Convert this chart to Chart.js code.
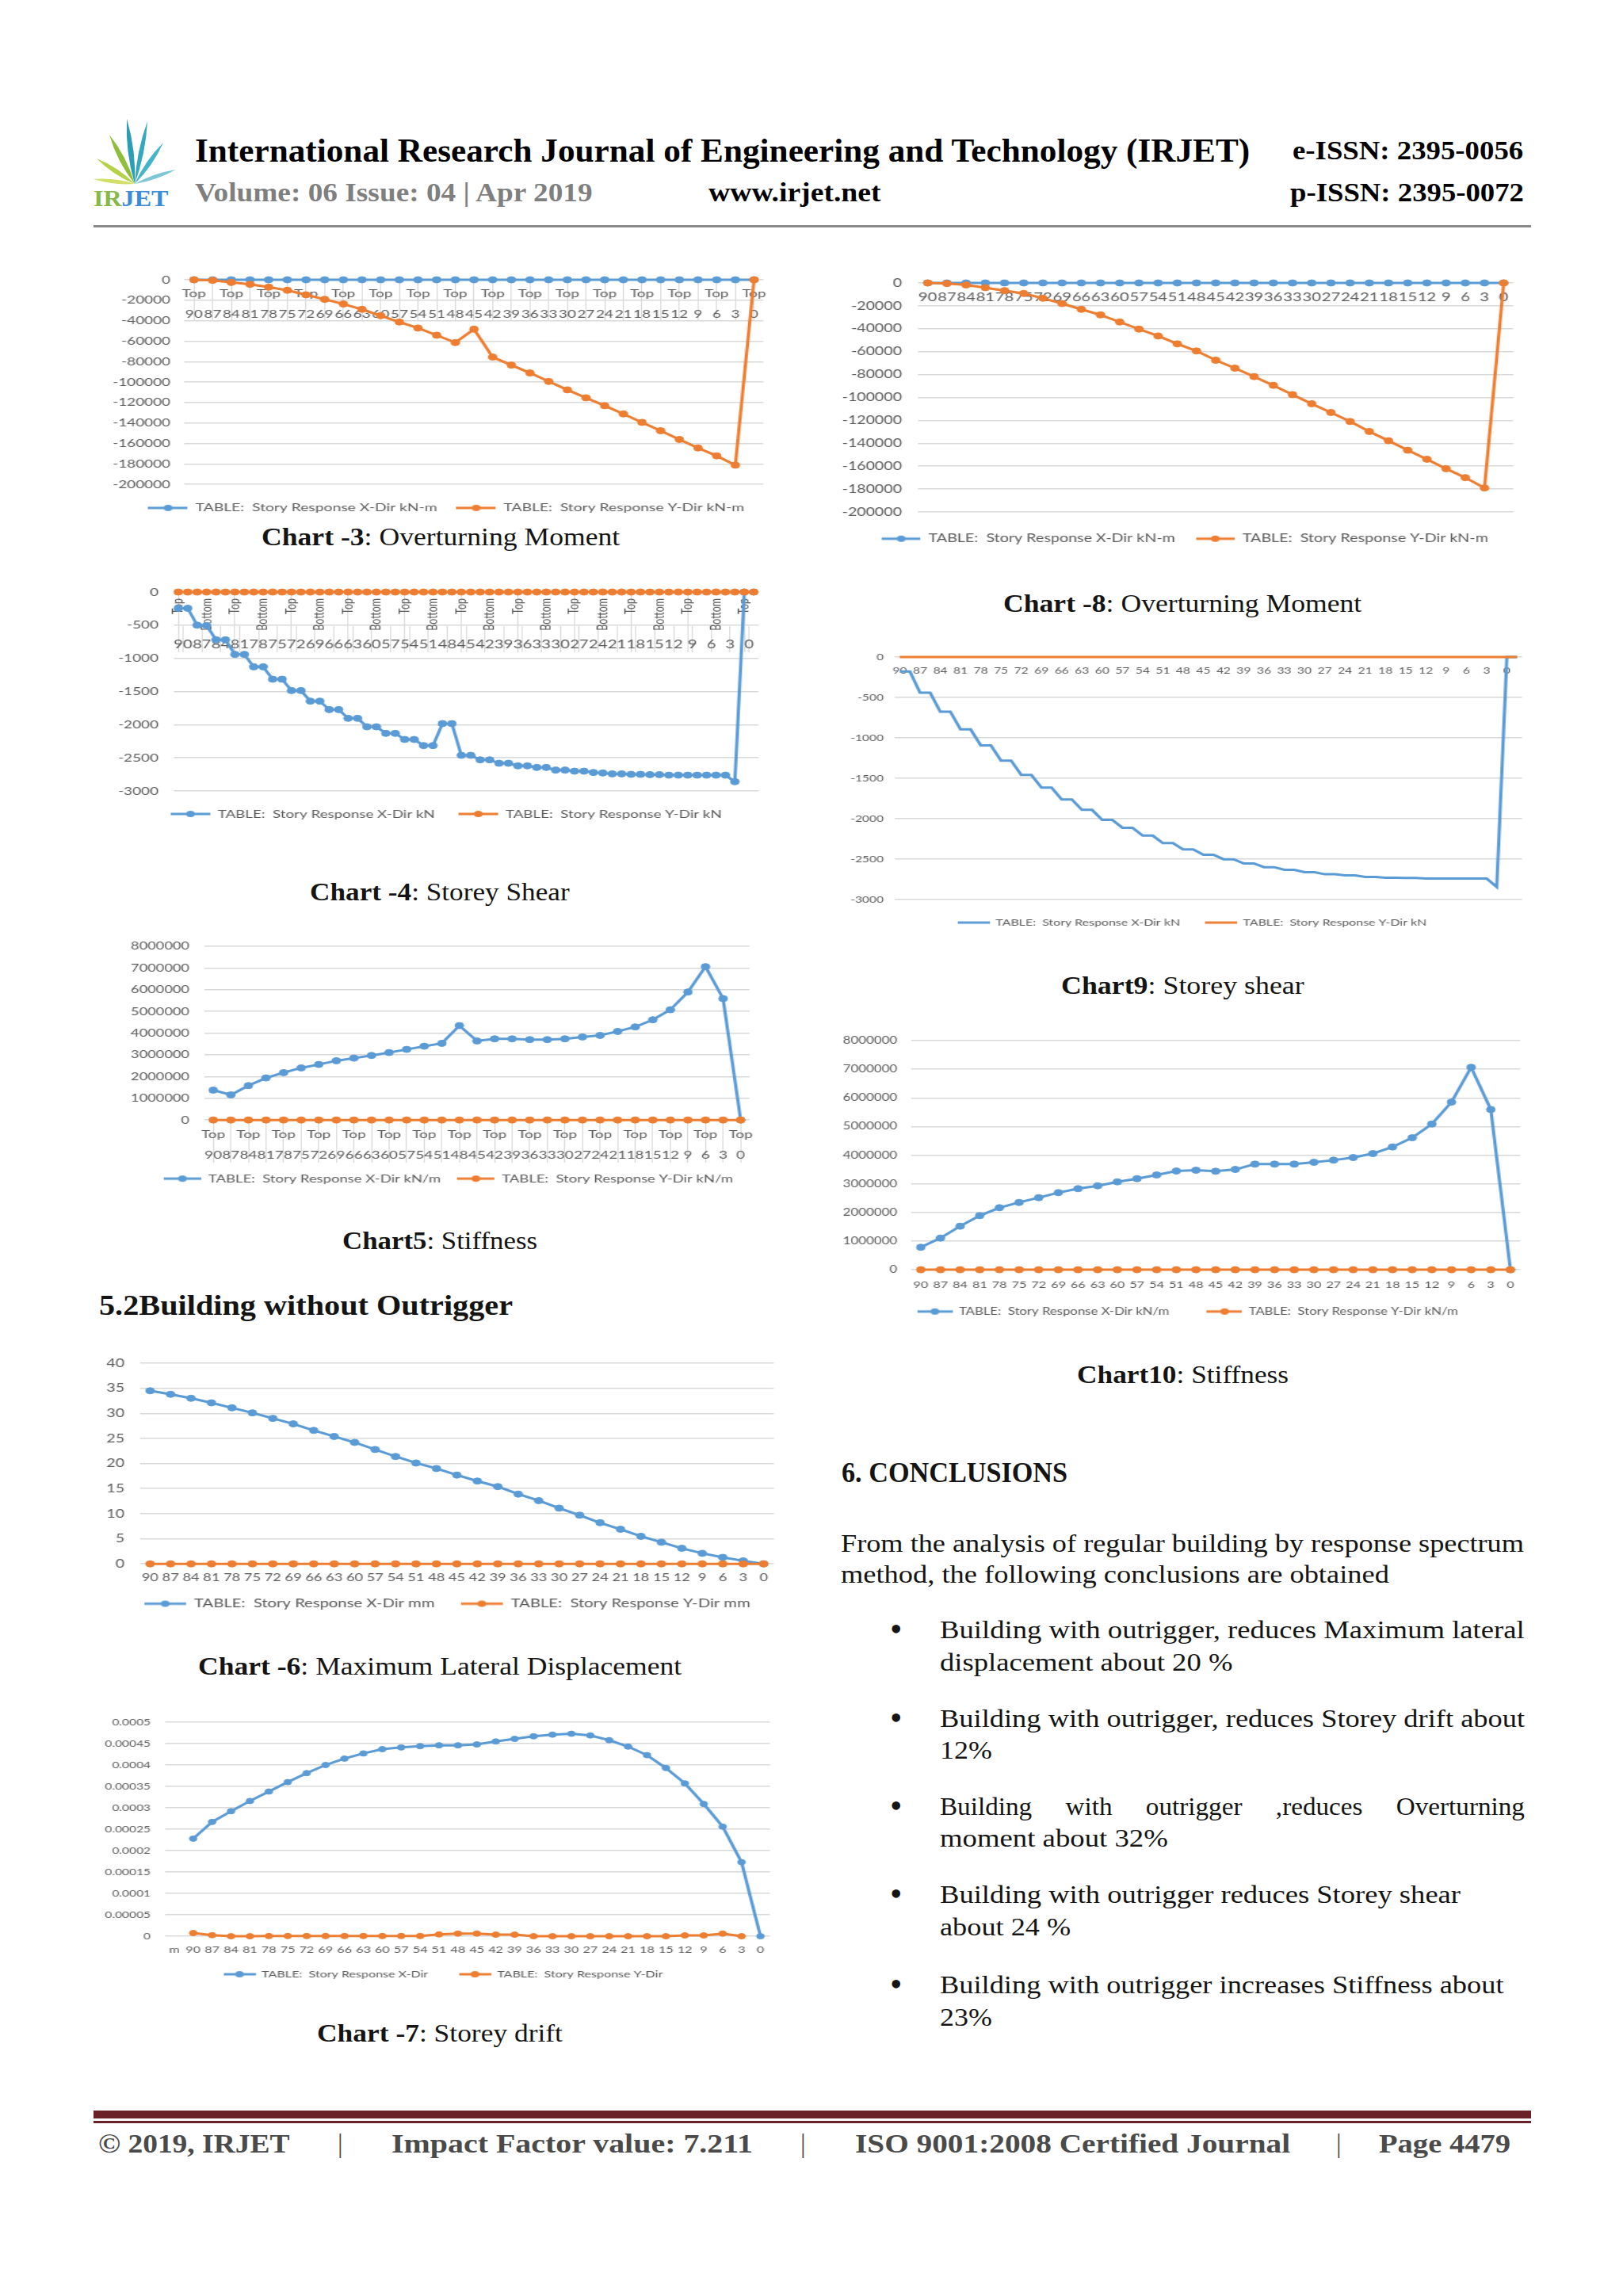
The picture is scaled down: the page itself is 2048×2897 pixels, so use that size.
<!DOCTYPE html>
<html><head><meta charset="utf-8">
<script src="https://cdn.jsdelivr.net/npm/chart.js@4.4.1/dist/chart.umd.min.js"></script>
<style>
html,body{margin:0;padding:0;background:#fff;}
body{position:relative;width:2048px;height:2897px;overflow:hidden;font-family:'Liberation Serif','DejaVu Serif',serif;color:#141414;}
.t{position:absolute;white-space:nowrap;line-height:1.2;transform-origin:0 50%;}
canvas{position:absolute;}
.bar{position:absolute;}
</style></head><body>
<div class="bar" style="left:118px;top:284px;width:1814px;height:3px;background:#8a8a8a"></div>
<div class="bar" style="left:118px;top:2663px;width:1814px;height:10px;background:#6a2228"></div>
<div class="bar" style="left:118px;top:2676px;width:1814px;height:3px;background:#6a2228"></div>
<svg id="logo" style="position:absolute;left:100px;top:140px" width="140" height="100" viewBox="100 140 140 100"></svg>
<script>
// ---------------- DATA ----------------
const stories = [90,87,84,81,78,75,72,69,66,63,60,57,54,51,48,45,42,39,36,33,30,27,24,21,18,15,12,9,6,3,0];
const levelTop = 'Top';
const levelBottom = 'Bottom';
const driftFirstCat = 'm';
const zeros31 = [0,0,0,0,0,0,0,0,0,0, 0,0,0,0,0,0,0,0,0,0, 0,0,0,0,0,0,0,0,0,0, 0];
const zeros62 = [0,0,0,0,0,0,0,0,0,0, 0,0,0,0,0,0,0,0,0,0, 0,0,0,0,0,0,0,0,0,0, 0,0,0,0,0,0,0,0,0,0, 0,0,0,0,0,0,0,0,0,0, 0,0,0,0,0,0,0,0,0,0, 0,0];

// Chart-3 overturning moment (with outrigger), Y-Dir kN-m
const moment3Y = [0,-500,-2600,-4400,-7200,-10300,-14700,-19100,-23700,-28900,-35100,-41300,-47200,-54200,-61400,-48300,-75600,-83400,-91100,-99400,-107600,-115400,-123100,-131100,-139400,-147600,-156100,-164400,-172100,-181200,0];
// Chart-8 overturning moment (without outrigger), Y-Dir kN-m
const moment8Y = [0,-500,-1800,-4100,-6700,-9200,-13400,-18000,-23000,-27900,-34100,-40300,-46300,-53200,-59400,-67500,-74400,-81800,-89400,-97500,-105500,-113100,-121000,-129700,-137800,-146100,-153900,-162200,-170000,-179000,0];
// Chart-4 storey shear (with outrigger), X-Dir kN, Top/Bottom per storey
const shear4X = [-245,-245,-500,-505,-720,-720,-940,-940,-1128,-1128,-1315,-1315,-1486,-1486,-1645,-1645,-1773,-1773,-1904,-1904,-2032,-2032,-2131,-2131,-2223,-2223,-2315,-2315,-1984,-1984,-2462,-2462,-2530,-2530,-2582,-2582,-2621,-2621,-2645,-2645,-2685,-2685,-2701,-2701,-2721,-2728,-2741,-2741,-2749,-2749,-2753,-2753,-2761,-2761,-2761,-2761,-2761,-2761,-2761,-2860,0,0];
// Chart9 storey shear (without outrigger), X-Dir kN
const shear9X = [-180,-180,-442,-442,-677,-677,-896,-896,-1093,-1093,-1282,-1282,-1459,-1459,-1616,-1616,-1763,-1763,-1891,-1891,-2015,-2015,-2113,-2113,-2211,-2211,-2303,-2303,-2382,-2382,-2447,-2447,-2503,-2503,-2555,-2555,-2601,-2601,-2634,-2634,-2663,-2663,-2689,-2689,-2702,-2702,-2722,-2722,-2732,-2732,-2735,-2735,-2741,-2741,-2741,-2741,-2741,-2741,-2741,-2846,0,0];
// Chart5 stiffness (with outrigger), X-Dir kN/m
const stiff5X = [1376000,1157000,1583000,1936000,2180000,2399000,2557000,2728000,2849000,2971000,3105000,3251000,3397000,3531000,4347000,3641000,3738000,3738000,3702000,3702000,3738000,3824000,3897000,4079000,4286000,4615000,5078000,5894000,7063000,5589000,0];
// Chart10 stiffness (without outrigger), X-Dir kN/m
const stiff10X = [783000,1106000,1521000,1889000,2166000,2350000,2516000,2691000,2830000,2931000,3069000,3180000,3309000,3447000,3475000,3438000,3502000,3687000,3687000,3687000,3751000,3825000,3917000,4055000,4286000,4608000,5088000,5853000,7069000,5595000,0];
// Chart-6 max lateral displacement, X-Dir mm
const disp6X = [34.5,33.8,33.0,32.1,31.1,30.1,29.0,27.9,26.6,25.4,24.2,22.8,21.4,20.1,19.0,17.7,16.5,15.4,13.9,12.6,11.1,9.7,8.2,6.9,5.5,4.3,3.1,2.1,1.3,0.6,0];
// Chart-7 storey drift (first category "m" empty)
const drift7X = [null,0.000228,0.000267,0.000292,0.000316,0.000338,0.000360,0.000381,0.000400,0.000415,0.000427,0.000437,0.000441,0.000444,0.000446,0.000446,0.000448,0.000455,0.000461,0.000467,0.000471,0.000473,0.000469,0.000458,0.000443,0.000423,0.000393,0.000357,0.000309,0.000256,0.000173,0];
const drift7Y = [null,0.0000074,0.0000025,0,0,0.0000005,0.0000005,0.0000005,0.0000005,0.0000005,0.0000005,0.0000005,0.0000005,0.0000005,0.0000043,0.0000062,0.0000062,0.0000037,0.0000037,0,0,0,0,0,0,0,0,0.0000019,0.0000019,0.0000062,0];

const LG = {
  momX:'TABLE:  Story Response X-Dir kN-m', momY:'TABLE:  Story Response Y-Dir kN-m',
  shX:'TABLE:  Story Response X-Dir kN', shY:'TABLE:  Story Response Y-Dir kN',
  stX:'TABLE:  Story Response X-Dir kN/m', stY:'TABLE:  Story Response Y-Dir kN/m',
  dX:'TABLE:  Story Response X-Dir mm', dY:'TABLE:  Story Response Y-Dir mm',
  drX:'TABLE:  Story Response X-Dir', drY:'TABLE:  Story Response Y-Dir'
};

// ---------------- STYLE / HELPERS ----------------
const FONT = "Lato, 'Liberation Sans', sans-serif";
const BLUE = '#5B9BD5', ORANGE = '#ED7D31', GRID = '#D9D9D9', TXT = '#595959';
const SX = 1.35;
const PADTOP = 30;

function sym(color, w, marker, r) {
  const c = document.createElement('canvas');
  c.width = Math.round(w); c.height = 14;
  const g = c.getContext('2d');
  g.strokeStyle = color; g.lineWidth = 3;
  g.beginPath(); g.moveTo(0, 7); g.lineTo(c.width, 7); g.stroke();
  if (marker) { g.fillStyle = color; g.beginPath(); g.arc(c.width / 2, 7, r, 0, Math.PI * 2); g.fill(); }
  return c;
}
function fmt(v) { return String(+Number(v).toPrecision(6)); }
function line(label, data, color, r, order) {
  return {label, data: data.slice(), order, borderColor: color, backgroundColor: color, borderWidth: 3,
    pointRadius: r, pointHoverRadius: r, pointBackgroundColor: color, pointBorderColor: color, pointBorderWidth: 1,
    tension: 0, fill: false, clip: false, xAxisID: 'x', yAxisID: 'y'};
}

function makeChart(o) {
  const H = Math.max(o.lgC - o.cl, o.cr - o.lgC) + 40;
  const left = Math.round(o.lgC - H), right = Math.round(o.lgC + H);
  const top = Math.round(o.ct - PADTOP), bottom = Math.round(o.lgY + o.lgFs / 2 + 10);
  const W = Math.round((right - left) / SX), Ht = bottom - top;
  const yW = (o.cl - left) / SX, y2W = (right - o.cr) / SX;
  const lgPad = Math.max(0, Math.min(o.gap / SX, o.lgY - o.lgFs / 2 - o.cb));
  const xH = Math.max(0, o.lgY - o.lgFs / 2 - lgPad - o.cb);
  const cv = document.createElement('canvas');
  cv.width = W; cv.height = Ht;
  cv.style.left = left + 'px'; cv.style.top = top + 'px';
  cv.style.transform = 'scaleX(' + SX + ')'; cv.style.transformOrigin = '0 0';
  document.body.appendChild(cv);
  const syms = o.datasets.map(d => sym(d.borderColor, o.symW / SX, d.pointRadius > 0, 4));
  const scales = {};
  const xs = o.x();
  Object.keys(xs).forEach(k => { scales[k] = xs[k]; });
  scales.xPad = {type:'linear', axis:'x', position:'bottom', afterFit: s => { s.height = xH; },
    grid:{display:false, drawTicks:false}, ticks:{display:false}, border:{display:false}};
  scales.y = {type:'linear', position:'left', min:o.yMin, max:o.yMax,
    afterFit: s => { s.width = yW; },
    ticks:{stepSize:o.yStep, padding:o.yGap / SX, color:TXT, font:{family:FONT, size:o.yFs}, callback: v => fmt(v)},
    grid:{color:GRID, lineWidth:1.5, drawTicks:false}, border:{display:false}};
  scales.yR = {type:'linear', axis:'y', position:'right', afterFit: s => { s.width = y2W; },
    grid:{display:false, drawTicks:false}, ticks:{display:false}, border:{display:false}};
  return new Chart(cv, {
    type:'line',
    data:{labels:o.labels, datasets:o.datasets},
    options:{
      responsive:false, animation:false, devicePixelRatio:1,
      layout:{padding:{top:o.ct - top, left:0, right:0, bottom:0}, autoPadding:false},
      plugins:{
        tooltip:{enabled:false},
        legend:{position:'bottom', labels:{usePointStyle:true, pointStyleWidth:o.symW / SX, boxHeight:o.lgFs,
          padding:lgPad, color:TXT, font:{family:FONT, size:o.lgFs},
          sort:(a, b) => a.datasetIndex - b.datasetIndex,
          generateLabels: ch => {
            const items = Chart.defaults.plugins.legend.labels.generateLabels(ch);
            items.forEach(it => { it.pointStyle = syms[it.datasetIndex]; });
            return items;
          }}}
      },
      scales
    }
  });
}

// category axis pinned to the y=0 line (labels below it)
function twoRowX(tl, pad, fs) {
  return {type:'category', position:{y:0}, offset:true,
    grid:{display:true, drawOnChartArea:false, drawTicks:true, tickLength:tl, color:GRID, lineWidth:1},
    border:{display:false},
    ticks:{autoSkip:false, maxRotation:0, minRotation:0, padding:pad, color:TXT, font:{family:FONT, size:fs, lineHeight:'26px'}}};
}
function plainX(pad, fs, cb) {
  const ax = {type:'category', position:{y:0}, offset:true, grid:{display:false, drawTicks:false}, border:{display:false},
    ticks:{autoSkip:false, maxRotation:0, minRotation:0, padding:pad, color:TXT, font:{family:FONT, size:fs}}};
  if (cb) ax.ticks.callback = cb;
  return ax;
}

// ---------------- CHARTS ----------------
const labelsTopNum = stories.map((s, i) => [i % 2 === 0 ? levelTop : '', String(s)]);
const labelsNum = stories.map(String);
const labelsTB = stories.flatMap(() => [levelTop, levelBottom]);
const labelsPair = stories.flatMap(s => [String(s), String(s)]);
const labelsDrift = [driftFirstCat].concat(stories.map(String));

// Chart -3
makeChart({cl:233, cr:963, ct:353, cb:611.3, lgY:641, lgC:563, lgFs:14.3, gap:24, symW:50,
  yFs:14, yGap:18, yMin:-200000, yMax:0, yStep:20000, labels:labelsTopNum,
  datasets:[line(LG.momX, zeros31, BLUE, 4, 2), line(LG.momY, moment3Y, ORANGE, 4, 1)],
  x: () => ({x: twoRowX(52, -48, 14)})});

// Chart -8
makeChart({cl:1158.5, cr:1909, ct:357, cb:646.3, lgY:680, lgC:1495, lgFs:14.6, gap:26, symW:49,
  yFs:14.5, yGap:20.5, yMin:-200000, yMax:0, yStep:20000, labels:labelsNum,
  datasets:[line(LG.momX, zeros31, BLUE, 4, 2), line(LG.momY, moment8Y, ORANGE, 4, 1)],
  x: () => ({x: plainX(9, 15)})});

// Chart -4
makeChart({cl:219, cr:957, ct:747, cb:998, lgY:1027, lgC:563, lgFs:13.9, gap:38, symW:50,
  yFs:14, yGap:19, yMin:-3000, yMax:0, yStep:500, labels:labelsTB,
  datasets:[line(LG.shX, shear4X, BLUE, 4, 2), line(LG.shY, zeros62, ORANGE, 4, 1)],
  x: () => ({
    x: {type:'category', position:{y:0}, offset:true,
      grid:{display:true, drawOnChartArea:false, drawTicks:true, tickLength:76, lineWidth:1,
        color: c => (c.index % 6 === 0 ? GRID : 'rgba(0,0,0,0)')},
      border:{display:false},
      ticks:{autoSkip:false, minRotation:90, maxRotation:90, padding:-68, color:TXT, font:{family:FONT, size:12.5},
        callback: function (v, i) { return i % 3 === 0 ? this.getLabelForValue(v) : ''; }}},
    x2: {type:'category', axis:'x', labels:labelsNum, position:{y:0}, offset:true,
      grid:{display:true, drawOnChartArea:false, drawTicks:true, tickLength:76, color:GRID, lineWidth:1, tickBorderDash:[0, 43, 33, 0]},
      border:{display:false},
      ticks:{autoSkip:false, maxRotation:0, minRotation:0, padding:-19, color:TXT, font:{family:FONT, size:15}}}
  })});

// Chart9
makeChart({cl:1129, cr:1920, ct:829, cb:1134.7, lgY:1164, lgC:1504, lgFs:11.8, gap:41, symW:40,
  yFs:11.5, yGap:14, yMin:-3000, yMax:0, yStep:500, labels:labelsPair,
  datasets:[line(LG.shX, shear9X, BLUE, 0, 2), line(LG.shY, zeros62, ORANGE, 0, 1)],
  x: () => ({x: plainX(10, 11.5, function (v, i) { return i % 2 === 0 ? this.getLabelForValue(v) : ''; })})});

// Chart5
makeChart({cl:258, cr:946, ct:1194, cb:1413, lgY:1487, lgC:566, lgFs:13.7, gap:21, symW:47,
  yFs:13.5, yGap:19, yMin:0, yMax:8000000, yStep:1000000, labels:labelsTopNum,
  datasets:[line(LG.stX, stiff5X, BLUE, 4, 2), line(LG.stY, zeros31, ORANGE, 4, 1)],
  x: () => ({x: twoRowX(54, -49, 14)})});

// Chart10
makeChart({cl:1149.5, cr:1919, ct:1313, cb:1602.3, lgY:1655, lgC:1499, lgFs:12.4, gap:48, symW:44,
  yFs:12.5, yGap:17.5, yMin:0, yMax:8000000, yStep:1000000, labels:labelsNum,
  datasets:[line(LG.stX, stiff10X, BLUE, 4, 2), line(LG.stY, zeros31, ORANGE, 4, 1)],
  x: () => ({x: plainX(11.5, 12)})});

// Chart -6
makeChart({cl:176.5, cr:977, ct:1720, cb:1972.7, lgY:2023, lgC:564.5, lgFs:15, gap:33, symW:53,
  yFs:14.5, yGap:19.5, yMin:0, yMax:40, yStep:5, labels:labelsNum,
  datasets:[line(LG.dX, disp6X, BLUE, 4, 2), line(LG.dY, zeros31, ORANGE, 4, 1)],
  x: () => ({x: plainX(9.2, 13.5)})});

// Chart -7
makeChart({cl:208, cr:971, ct:2173, cb:2443, lgY:2491, lgC:559, lgFs:11.9, gap:39, symW:40,
  yFs:11.5, yGap:18, yMin:0, yMax:0.0005, yStep:0.00005, labels:labelsDrift,
  datasets:[line(LG.drX, drift7X, BLUE, 3.5, 2), line(LG.drY, drift7Y, ORANGE, 3.5, 1)],
  x: () => ({x: plainX(9.8, 12)})});

// ---------------- PAGE TEXT ----------------
const TEXTS = [
 {x:246, cy:190, fs:42, w:1331, b:1, c:'#000', t:'International Research Journal of Engineering and Technology (IRJET)'},
 {x:1631, cy:191, fs:34, w:291, b:1, c:'#000', t:'e-ISSN: 2395-0056'},
 {x:246, cy:244, fs:33, w:502, b:1, c:'#7f7f7f', t:'Volume: 06 Issue: 04 | Apr 2019'},
 {x:894, cy:244, fs:33, w:218, b:1, c:'#000', t:'www.irjet.net'},
 {x:1628, cy:244, fs:34, w:295, b:1, c:'#000', t:'p-ISSN: 2395-0072'},
 {x:118, cy:250, fs:30, w:94, b:1, h:'<span style="color:#86b94a">IR</span><span style="color:#3b8bd6">JET</span>'},
 {x:330, cy:677, fs:32, w:452, h:'<b>Chart -3</b>: Overturning Moment'},
 {x:1266, cy:761, fs:32, w:452, h:'<b>Chart -8</b>: Overturning Moment'},
 {x:391, cy:1125, fs:32, w:328, h:'<b>Chart -4</b>: Storey Shear'},
 {x:1339, cy:1243, fs:32, w:307, h:'<b>Chart9</b>: Storey shear'},
 {x:432, cy:1565, fs:32, w:246, h:'<b>Chart5</b>: Stiffness'},
 {x:1359, cy:1734, fs:32, w:267, h:'<b>Chart10</b>: Stiffness'},
 {x:250, cy:2102, fs:32, w:610, h:'<b>Chart -6</b>: Maximum Lateral Displacement'},
 {x:400, cy:2565, fs:32, w:310, h:'<b>Chart -7</b>: Storey drift'},
 {x:125, cy:1648, fs:35, w:522, b:1, t:'5.2Building without Outrigger'},
 {x:1062, cy:1859, fs:36, w:285, b:1, t:'6. CONCLUSIONS'},
 {x:1061, cy:1948, fs:31, w:862, t:'From the analysis of regular building by response spectrum'},
 {x:1061, cy:1987, fs:31, w:692, t:'method, the following conclusions are obtained'},
 {x:1186, cy:2057, fs:31, w:738, t:'Building with outrigger, reduces  Maximum lateral'},
 {x:1186, cy:2098, fs:31, w:370, t:'displacement about 20 %'},
 {x:1186, cy:2169, fs:31, w:738, t:'Building with outrigger, reduces Storey drift about'},
 {x:1186, cy:2209, fs:31, w:66, t:'12%'},
 {x:1186, cy:2280, fs:31, w:738, j:1, t:'Building with outrigger ,reduces Overturning'},
 {x:1186, cy:2320, fs:31, w:288, t:'moment about 32%'},
 {x:1186, cy:2391, fs:31, w:657, t:'Building with outrigger reduces Storey shear'},
 {x:1186, cy:2432, fs:31, w:165, t:'about 24 %'},
 {x:1186, cy:2505, fs:31, w:711, t:'Building with outrigger increases Stiffness about'},
 {x:1186, cy:2546, fs:31, w:66, t:'23%'},
 {x:124, cy:2706, fs:33, w:242, b:1, c:'#4a4a4a', t:'\u00A9 2019, IRJET'},
 {x:426, cy:2706, fs:33, c:'#4a4a4a', t:'|'},
 {x:494, cy:2706, fs:33, w:456, b:1, c:'#4a4a4a', t:'Impact Factor value: 7.211'},
 {x:1010, cy:2706, fs:33, c:'#4a4a4a', t:'|'},
 {x:1079, cy:2706, fs:33, w:549, b:1, c:'#4a4a4a', t:'ISO 9001:2008 Certified Journal'},
 {x:1686, cy:2706, fs:33, c:'#4a4a4a', t:'|'},
 {x:1740, cy:2706, fs:33, w:166, b:1, c:'#4a4a4a', t:'Page 4479'}
];
const BULLETS = [2057, 2169, 2280, 2391, 2505];
const JUSTIFY_SCALE = 1.07;

TEXTS.forEach(o => {
  const d = document.createElement('div');
  d.className = 't';
  d.style.left = o.x + 'px';
  d.style.top = (o.cy - 0.607 * o.fs) + 'px';
  d.style.fontSize = o.fs + 'px';
  if (o.b) d.style.fontWeight = 'bold';
  if (o.c) d.style.color = o.c;
  if (o.j) {
    d.style.display = 'flex'; d.style.justifyContent = 'space-between';
    d.style.width = (o.w / JUSTIFY_SCALE) + 'px';
    d.style.transform = 'scaleX(' + JUSTIFY_SCALE + ')';
    o.t.split(' ').forEach(wd => { const s = document.createElement('span'); s.textContent = wd; d.appendChild(s); });
    document.body.appendChild(d);
    return;
  }
  if (o.h) d.innerHTML = o.h; else d.textContent = o.t;
  document.body.appendChild(d);
  if (o.w) {
    const nat = d.offsetWidth;
    if (nat > 0) d.style.transform = 'scaleX(' + (o.w / nat) + ')';
  }
});
BULLETS.forEach(cy => {
  const d = document.createElement('div');
  d.className = 't'; d.style.left = '1123px'; d.style.top = (cy + 3 - 30.25) + 'px'; d.style.fontSize = '44px';
  d.textContent = '\u2022';
  document.body.appendChild(d);
});

// logo leaves
(function () {
  function leaf(bx, by, tx, ty, w, color) {
    const mx = (bx + tx) / 2, my = (by + ty) / 2, dx = tx - bx, dy = ty - by, L = Math.hypot(dx, dy);
    const nx = -dy / L * w, ny = dx / L * w;
    return '<path d="M' + bx + ',' + by + ' Q' + (mx + nx) + ',' + (my + ny) + ' ' + tx + ',' + ty + ' Q' + (mx - nx) + ',' + (my - ny) + ' ' + bx + ',' + by + 'Z" fill="' + color + '"/>';
  }
  const b = [170, 232];
  const L = [
    [160, 150, 7, '#2b9db4'], [186, 153, 6, '#33a8bf'], [206, 180, 6, '#45b3c9'], [222, 214, 5, '#7ec6d6'],
    [138, 170, 7, '#8fbe3a'], [122, 200, 6, '#b4d148'], [118, 226, 5, '#d2df6a']
  ];
  document.getElementById('logo').innerHTML = L.map(l => leaf(b[0], b[1], l[0], l[1], l[2], l[3])).join('');
})();
</script>
</body></html>
